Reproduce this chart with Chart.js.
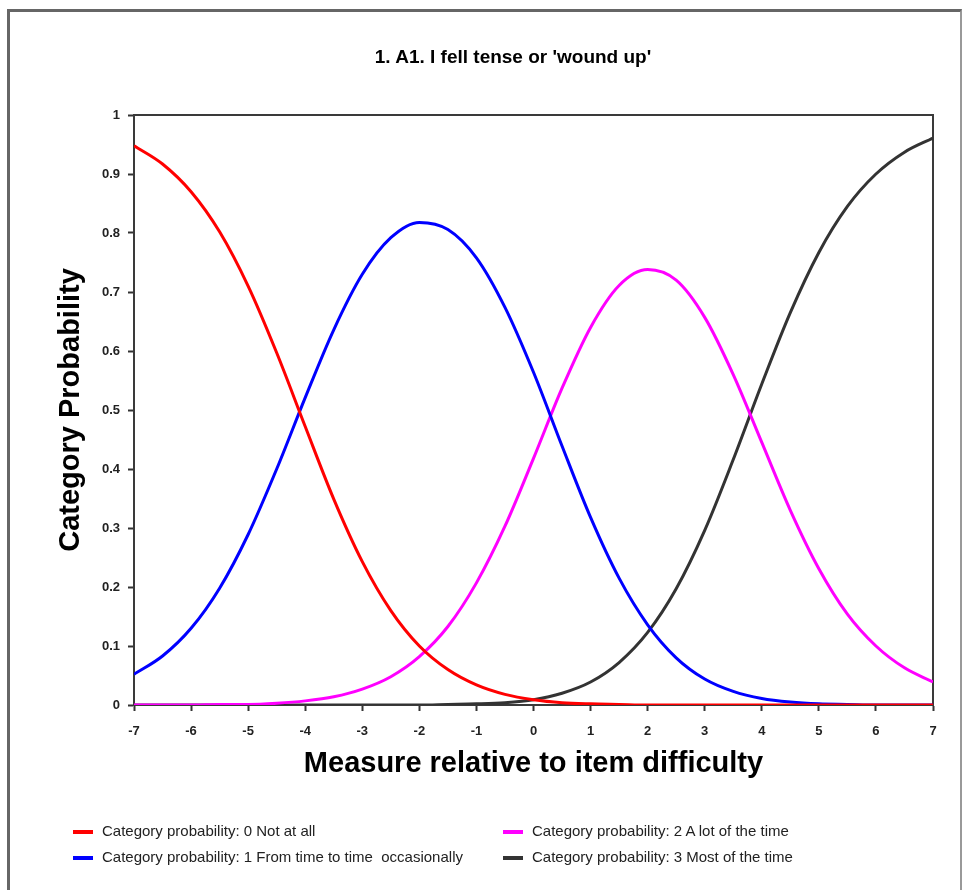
<!DOCTYPE html>
<html>
<head>
<meta charset="utf-8">
<script src="https://cdn.jsdelivr.net/npm/chart.js@4.4.1/dist/chart.umd.min.js"></script>
<style>
  body { margin: 0; background: #fff; }
  #wrap { position: relative; width: 965px; height: 890px; overflow: hidden; background: #fff; }
  #c { position: absolute; left: 0; top: 0; }
  .frame {
    position: absolute; left: 7px; top: 9px; width: 950px; height: 900px;
    border-top: 3px solid #666; border-left: 3px solid #666; border-right: 2px solid #999;
    pointer-events: none;
  }
  .title {
    position: absolute; left: 263px; top: 46px; width: 500px; text-align: center;
    font: bold 19px "Liberation Sans", Arial, sans-serif; line-height: 22px; color: #000;
  }
  .lg-item { position: absolute; height: 20px; white-space: pre; }
  .lg-swatch { position: absolute; left: 0; top: 8px; width: 20px; height: 4px; }
  .lg-text {
    position: absolute; left: 29px; top: 0; line-height: 20px;
    font: 15px "Liberation Sans", Arial, sans-serif; color: #222;
  }
</style>
</head>
<body>
<div id="wrap">
  <canvas id="c" width="965" height="890"></canvas>
  <div class="title" id="title"></div>
  <div id="legend"></div>
  <div class="frame"></div>
</div>
<script>
const chartTitle = "1. A1. I fell tense or 'wound up'";
const xTitle = "Measure relative to item difficulty";
const yTitle = "Category Probability";

// measure (logits), every half step
const measures = [-7, -6.5, -6, -5.5, -5, -4.5, -4, -3.5, -3, -2.5, -2, -1.5, -1, -0.5, 0,
  0.5, 1, 1.5, 2, 2.5, 3, 3.5, 4, 4.5, 5, 5.5, 6, 6.5, 7];

const cat0 = [0.948, 0.917, 0.870, 0.802, 0.710, 0.597, 0.472, 0.349, 0.243, 0.160, 0.100, 0.060, 0.034, 0.018, 0.009,
  0.004, 0.002, 0.001, 0.000, 0, 0, 0, 0, 0, 0, 0, 0, 0, 0];
const cat1 = [0.052, 0.083, 0.130, 0.198, 0.289, 0.400, 0.521, 0.636, 0.730, 0.792, 0.818, 0.806, 0.758, 0.674, 0.564,
  0.439, 0.318, 0.215, 0.136, 0.080, 0.044, 0.023, 0.011, 0.005, 0.002, 0.001, 0.000, 0, 0];
const cat2 = [0, 0, 0, 0.001, 0.001, 0.003, 0.007, 0.014, 0.027, 0.048, 0.082, 0.133, 0.207, 0.303, 0.418,
  0.537, 0.640, 0.711, 0.738, 0.720, 0.657, 0.560, 0.445, 0.330, 0.231, 0.154, 0.100, 0.063, 0.039];
const cat3 = [0, 0, 0, 0, 0, 0, 0, 0, 0, 0, 0, 0.001, 0.002, 0.004, 0.009,
  0.020, 0.039, 0.072, 0.123, 0.197, 0.296, 0.416, 0.544, 0.665, 0.767, 0.845, 0.900, 0.937, 0.961];

const seriesLabels = [
  "Category probability: 0 Not at all",
  "Category probability: 1 From time to time  occasionally",
  "Category probability: 2 A lot of the time",
  "Category probability: 3 Most of the time"
];
const seriesColors = ["#ff0000", "#0000ff", "#ff00ff", "#333333"];
const seriesValues = [cat0, cat1, cat2, cat3];

const xTicks = ["-7", "-6", "-5", "-4", "-3", "-2", "-1", "0", "1", "2", "3", "4", "5", "6", "7"];
const yTicks = ["0", "0.1", "0.2", "0.3", "0.4", "0.5", "0.6", "0.7", "0.8", "0.9", "1"];

document.getElementById("title").textContent = chartTitle;

// legend in two columns, like the original
const legend = document.getElementById("legend");
const cols = [73, 503];
const rows = [822, 848];
seriesLabels.forEach((lab, i) => {
  const item = document.createElement("div");
  item.className = "lg-item";
  item.style.left = cols[Math.floor(i / 2)] + "px";
  item.style.top = rows[i % 2] + "px";
  item.innerHTML = '<div class="lg-swatch"></div><div class="lg-text"></div>';
  item.querySelector(".lg-swatch").style.background = seriesColors[i];
  item.querySelector(".lg-text").textContent = lab;
  legend.appendChild(item);
});

const plotBox = {
  id: "plotBox",
  beforeDatasetsDraw(chart) {
    const { ctx, chartArea: a } = chart;
    ctx.save();
    ctx.strokeStyle = "#3a3a3a";
    ctx.lineWidth = 2;
    ctx.strokeRect(a.left, a.top, a.right - a.left, a.bottom - a.top);
    ctx.restore();
  }
};

const tickFont = { family: "'Liberation Sans', Arial, sans-serif", size: 13, weight: "bold" };
const titleFont = { family: "'Liberation Sans', Arial, sans-serif", size: 29, weight: "bold" };

new Chart(document.getElementById("c"), {
  type: "line",
  data: {
    datasets: seriesValues.map((vals, i) => ({
      label: seriesLabels[i],
      data: vals.map((v, j) => ({ x: measures[j], y: v })),
      borderColor: seriesColors[i],
      backgroundColor: seriesColors[i],
      borderWidth: 3,
      pointRadius: 0,
      fill: false,
      cubicInterpolationMode: "monotone"
    }))
  },
  options: {
    responsive: false,
    animation: false,
    layout: { padding: { left: 0, right: 32, top: 115, bottom: 0 } },
    plugins: {
      legend: { display: false },
      title: { display: false },
      tooltip: { enabled: false }
    },
    scales: {
      x: {
        type: "linear",
        min: -7,
        max: 7,
        afterFit: (s) => { s.height = 185; },
        ticks: {
          stepSize: 1,
          padding: 13,
          color: "#222",
          font: tickFont,
          callback: (v) => xTicks[Math.round(v) + 7]
        },
        grid: { display: true, drawOnChartArea: false, drawTicks: true, tickLength: 6, tickWidth: 2, tickColor: "#333" },
        border: { display: true, color: "#333", width: 2 },
        title: { display: true, text: xTitle, color: "#000", font: titleFont, padding: { top: 0, bottom: 109 } }
      },
      y: {
        min: 0,
        max: 1,
        afterFit: (s) => { s.width = 134; },
        ticks: {
          stepSize: 0.1,
          padding: 8,
          color: "#222",
          font: tickFont,
          callback: (v) => yTicks[Math.round(v * 10)]
        },
        grid: { display: true, drawOnChartArea: false, drawTicks: true, tickLength: 6, tickWidth: 2, tickColor: "#333" },
        border: { display: true, color: "#333", width: 2 },
        title: { display: true, text: yTitle, color: "#000", font: titleFont, padding: { top: 54, bottom: 0 } }
      }
    }
  },
  plugins: [plotBox]
});
</script>
</body>
</html>
